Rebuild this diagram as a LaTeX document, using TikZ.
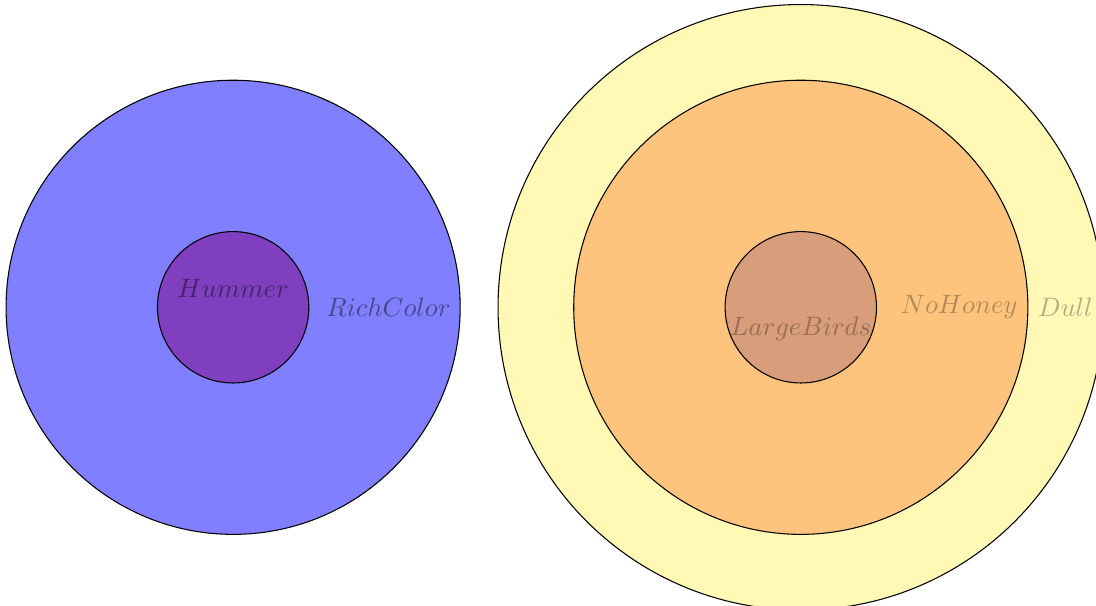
\documentclass[tikz,border=0pt]{standalone}
\usepackage{amsmath}
\usepackage{tikz}
\usetikzlibrary{positioning}
\definecolor{dullyellow}{RGB}{255,249,181}
\definecolor{honeyorange}{RGB}{254,196,126}
\definecolor{birdbrown}{RGB}{216,157,122}
\tikzstyle{set} = [draw, circle, inner sep=0pt]
\tikzstyle{smallset} = [set, minimum size=2cm]
\tikzstyle{bigset} = [set, minimum size=6cm]
\tikzstyle{hugeset} = [set, minimum size=8cm]
\tikzstyle{lbl} = [text opacity=0.45]

\begin{document}
\begin{tikzpicture}[node distance=7.5cm]
    \useasboundingbox (-3.08,-3.94) rectangle (11.40,4.06);
    \node [bigset, fill=blue, fill opacity=0.5] (richcolor) at (0,0) {};
    \node [smallset, fill=violet, fill opacity=0.5] (hummer) at (richcolor.center) {};
    \node [hugeset, fill=dullyellow, right of=richcolor] (dull) {};
    \node [bigset, fill=honeyorange] (nohoney) at (dull.center) {};
    \node [smallset, fill=birdbrown] (largebirds) at (dull.center) {};

    \node [lbl, above] (hummerlbl) at (hummer.center) {$Hummer$};
    \node [lbl, right=0.10cm of hummer] (richcolorlbl) {$RichColor$};
    \node [lbl, below, text opacity=0.3] (largebirdslbl) at (largebirds.center) {$LargeBirds$};
    \node [lbl, right=0.19cm of largebirds, text opacity=0.3] (nohoneylbl) {$NoHoney$};
    \node [lbl, right=0cm of nohoney, text opacity=0.3] (dulllbl) {$Dull$};
\end{tikzpicture}
\end{document}
